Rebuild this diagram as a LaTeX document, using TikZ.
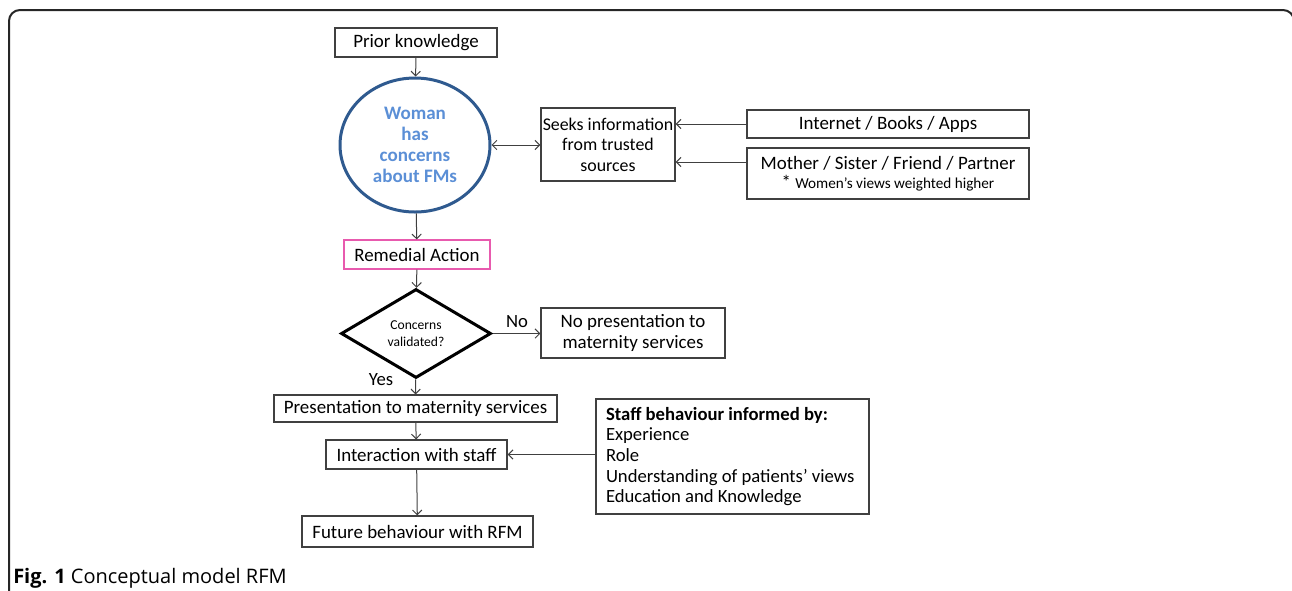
\documentclass[tikz,border=0pt]{standalone}
\usepackage{fontspec}
\setmainfont{Carlito}
\newfontfamily\capfont{Open Sans}
\usetikzlibrary{shapes.geometric,arrows.meta}
\newcommand{\pxu}{0.75pt}
\definecolor{boxline}{HTML}{404040}
\definecolor{ellline}{HTML}{2F5A8F}
\definecolor{elltext}{HTML}{5B8FD6}
\definecolor{pinkline}{HTML}{E85AAE}
\begin{document}
\begin{tikzpicture}[x=0.75pt,y=-0.75pt,
  box/.style={draw=boxline,line width=1.2pt*0.75,inner sep=0pt,align=center,font=\fontsize{14.2}{15.5}\selectfont},
  conn/.style={draw=boxline,line width=1pt*0.75,-{Straight Barb[length=3.5pt,width=7pt]}},
  bothconn/.style={draw=boxline,line width=1pt*0.75,{Straight Barb[length=3.5pt,width=7pt]}-{Straight Barb[length=3.5pt,width=7pt]}}]
\useasboundingbox (0,0) rectangle (1292,590);
\begin{scope}
\clip (0,0) rectangle (1292,590);
\draw[line width=2pt*0.75,black!85,rounded corners=11pt*0.75] (9,10) rectangle (1294,610);
\end{scope}

\node[box,minimum width=162*\pxu,minimum height=29*\pxu] (prior) at (416,42.5) {Prior knowledge};
\node[draw=ellline,line width=3pt*0.75,ellipse,minimum width=150*\pxu,minimum height=134*\pxu,inner sep=0pt,align=center,text=elltext,font=\fontsize{14.3}{15.8}\selectfont\bfseries] (woman) at (415,145) {Woman\\has\\concerns\\about FMs};
\node[box,minimum width=134*\pxu,minimum height=73*\pxu,font=\fontsize{13.4}{15.4}\selectfont] (seeks) at (608,144.5) {Seeks information\\from trusted\\sources};
\node[box,minimum width=282*\pxu,minimum height=28*\pxu] (internet) at (888,124) {Internet / Books / Apps};
\node[box,minimum width=282*\pxu,minimum height=51*\pxu] (mother) at (888,173.5) {Mother / Sister / Friend / Partner\\[-1pt]{\fontsize{14}{12}\selectfont *} {\fontsize{11.4}{12}\selectfont Women’s views weighted higher}};
\node[box,draw=pinkline,minimum width=146*\pxu,minimum height=29*\pxu] (remedial) at (417,254.5) {Remedial Action};
\node[draw=black,line width=3pt*0.75,diamond,minimum width=150*\pxu,minimum height=89*\pxu,inner sep=0pt,align=center,font=\fontsize{10.2}{12.5}\selectfont] (valid) at (416,333.5) {Concerns\\validated?};
\node[box,minimum width=184*\pxu,minimum height=50*\pxu,font=\fontsize{14.2}{15.5}\selectfont] (nopres) at (633,333) {No presentation to\\maternity services};
\node[box,minimum width=283*\pxu,minimum height=27*\pxu] (pres) at (415.5,408.5) {Presentation to maternity services};
\node[box,minimum width=181*\pxu,minimum height=29*\pxu] (inter) at (416.5,454.5) {Interaction with staff};
\node[box,minimum width=231*\pxu,minimum height=31*\pxu] (future) at (417.5,531.5) {Future behaviour with RFM};
\node[box,minimum width=273*\pxu,minimum height=115*\pxu,align=flush left,text width=253*\pxu,font=\fontsize{14}{15.5}\selectfont] (staff) at (732.5,456.5) {\textbf{Staff behaviour informed by:}\\Experience\\Role\\Understanding of patients’ views\\Education and Knowledge};

\node[font=\fontsize{14}{14}\selectfont,anchor=center] (nolab) at (517,322) {No};
\node[font=\fontsize{14}{14}\selectfont,anchor=center] (yeslab) at (381,380) {Yes};

\draw[conn] (prior) -- (woman);
\draw[conn] (woman) -- (remedial);
\draw[conn] (remedial) -- (valid);
\draw[conn] (valid) -- (pres);
\draw[conn] (pres) -- (inter);
\draw[conn] (inter) -- (future);
\draw[conn] (valid.east) -- (nopres.west |- valid.east);
\draw[conn] (staff.west |- inter) -- (inter.east);
\draw[conn] (internet.west) -- (seeks.east |- internet.west);
\draw[conn] (mother.west |- 0,162) -- (seeks.east |- 0,162);
\draw[bothconn] (woman.east) -- (seeks.west |- woman.east);

\node[anchor=west,inner sep=0pt,font=\capfont\fontsize{15}{17}\selectfont] (caption) at (13,578) {\textbf{Fig. 1} Conceptual model RFM};
\end{tikzpicture}
\end{document}
